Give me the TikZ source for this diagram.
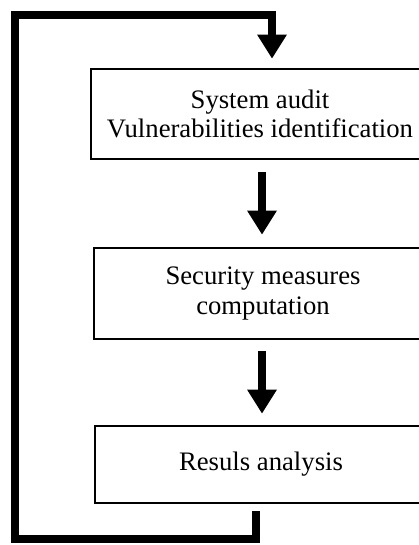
\documentclass[tikz,border=0pt]{standalone}
\usepackage{fontspec}
\setmainfont{Liberation Serif}
\usetikzlibrary{arrows.meta}

\tikzset{
  stage/.style={draw, line width=2.6pt, inner sep=0pt, align=center,
    font=\fontsize{26.7}{29.5}\selectfont},
  flow/.style={line width=8pt,
    -{Triangle[width=28pt,length=24pt]}},
  feedback/.style={line width=7.5pt, line join=miter,
    -{Triangle[width=28pt,length=24pt]}}
}

\begin{document}
\begin{tikzpicture}[x=1pt,y=-1pt]
  \useasboundingbox (0,0) rectangle (419,545);
  \clip (0,0) rectangle (419,545);

  % process stages
  \node[stage, minimum width=338pt, minimum height=90pt] (b1) at (260,114)
    {System audit\\Vulnerabilities identification};
  \node[stage, minimum width=338pt, minimum height=91pt] (b2) at (263,293.5)
    {Security measures\\computation};
  \node[stage, minimum width=332pt, minimum height=77pt] (b3) at (261,464.5)
    {Resuls analysis};

  % forward arrows
  \draw[flow, shorten <=12pt, shorten >=12pt]
    ([xshift=2pt]b1.south) -- ([xshift=-1pt]b2.north);
  \draw[flow, shorten <=11pt, shorten >=11pt]
    ([xshift=-1pt]b2.south) -- ([xshift=1pt]b3.north);

  % feedback loop back to the first stage
  \coordinate (lb) at (15,539);
  \coordinate (lt) at (15,15);
  \draw[feedback]
    ([xshift=-5pt,yshift=-7pt]b3.south) |- (lb) -- (lt)
    -| ([xshift=12pt,yshift=9pt]b1.north);
\end{tikzpicture}
\end{document}
